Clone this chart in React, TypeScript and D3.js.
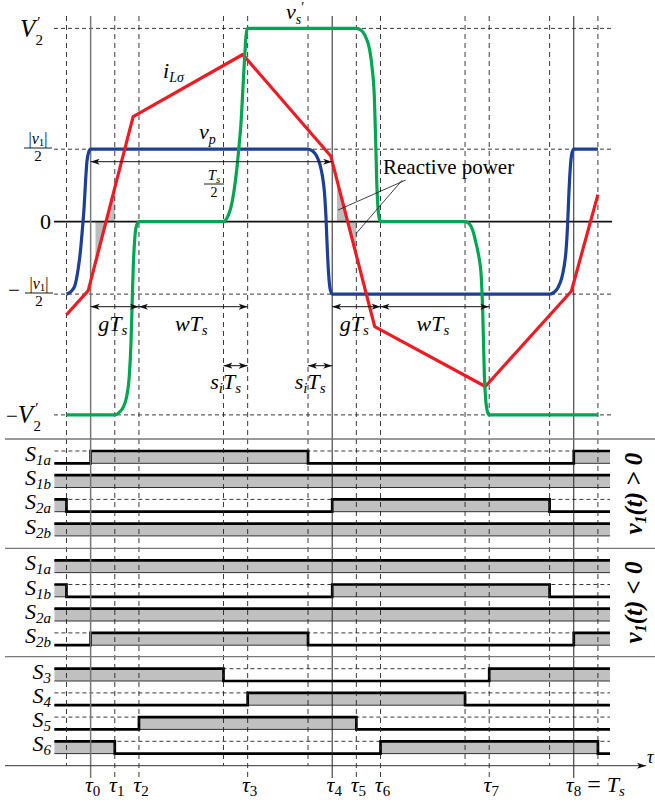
import React from "react";
import * as d3 from "d3";

// ---------------- data ----------------
const tauTimes = [0, 0.05, 0.1, 0.325, 0.5, 0.55, 0.6, 0.825, 1.0];
const tauNames = ["0", "1", "2", "3", "4", "5", "6", "7", "8"];
const solidTimes = [0, 0.5, 1.0];
const helperTimes = [-0.05, 0.275, 0.45, 0.775, 0.95, 1.05];
const levelValues = [1, 0.375, -0.375, -1];

// v_p (primary voltage), in units of V2'
const vpT = [-0.05, -0.04, -0.0325, -0.026, -0.021, -0.017, -0.0135, -0.0105, -0.0075, -0.004, 0,
  0.45, 0.46, 0.4675, 0.475, 0.48, 0.484, 0.487, 0.49, 0.493, 0.496, 0.5,
  0.95, 0.96, 0.9675, 0.975, 0.98, 0.984, 0.987, 0.99, 0.993, 0.996, 1.0, 1.05];
const vpV = [-0.375, -0.36, -0.33, -0.2475, -0.15, -0.0375, 0.075, 0.21, 0.315, 0.36, 0.375,
  0.375, 0.364, 0.341, 0.2925, 0.2325, 0.15, 0.03, -0.15, -0.285, -0.3525, -0.375,
  -0.375, -0.364, -0.341, -0.2925, -0.2325, -0.15, -0.03, 0.15, 0.285, 0.3525, 0.375, 0.375];

// v_s' (secondary voltage referred)
const vsT = [-0.05,
  0.05, 0.06, 0.0675, 0.075, 0.08, 0.0835, 0.086, 0.088, 0.091, 0.094, 0.1,
  0.275, 0.2825, 0.29, 0.296, 0.3025, 0.3075, 0.311, 0.315, 0.319, 0.322, 0.325,
  0.55, 0.56, 0.5675, 0.5775, 0.5825, 0.5875, 0.59, 0.592, 0.594, 0.5965, 0.6,
  0.775, 0.785, 0.7915, 0.7975, 0.8035, 0.8085, 0.8115, 0.815, 0.818, 0.821, 0.825,
  1.05];
const vsV = [-1,
  -1, -0.985, -0.96, -0.9, -0.8, -0.63, -0.42, -0.25, -0.1, -0.03, 0,
  0, 0.02, 0.07, 0.146, 0.27, 0.4, 0.5, 0.68, 0.86, 0.97, 1,
  1, 0.99, 0.965, 0.89, 0.8, 0.63, 0.42, 0.22, 0.1, 0.03, 0,
  0, -0.015, -0.05, -0.11, -0.18, -0.285, -0.46, -0.8, -0.93, -0.98, -1,
  -1];

// i_Lsigma (inductor current)
const iLT = [-0.05, -0.005, 0.088, 0.315, 0.497, 0.588, 0.817, 0.995, 1.05];
const iLV = [-0.482, -0.357, 0.543, 0.865, 0.34, -0.543, -0.853, -0.36, 0.14];

const reactiveSpans = [[0.01, 0.05], [0.51, 0.55]];

// switching signals (on-intervals)
const panelANames = ["1a", "1b", "2a", "2b"];
const panelAOn = [[[0, 0.45], [1, 1.075]], [[-0.075, 1.075]], [[-0.075, -0.05], [0.5, 0.95]], [[-0.075, 1.075]]];
const panelBNames = ["1a", "1b", "2a", "2b"];
const panelBOn = [[[-0.075, 1.075]], [[-0.075, -0.05], [0.5, 0.95]], [[-0.075, 1.075]], [[0, 0.45], [1, 1.075]]];
const panelCNames = ["3", "4", "5", "6"];
const panelCOn = [[[-0.075, 0.275], [0.825, 1.075]], [[0.325, 0.775]], [[0.1, 0.55]], [[-0.075, 0.05], [0.6, 1.05]]];

const dimSpans = [[0, 0.1, "g"], [0.1, 0.325, "w"], [0.5, 0.6, "g"], [0.6, 0.825, "w"]];
const siSpans = [[0.275, 0.325], [0.45, 0.5]];

// ---------------- layout ----------------
const W = 655, H = 805;
const X0 = -0.075, X1 = 1.075;
const x = d3.scaleLinear().domain([X0, X1]).range([54.4, 610]);
const y = d3.scaleLinear().domain([-1, 1]).range([414.9, 28.4]);
const FONT = "'Liberation Serif','DejaVu Serif',serif";
const BLUE = "#1d3f95", GREEN = "#00a651", RED = "#ed1c24";
const rowH = 12.3, rowGap = 24.2;
const panelTops = [439, 548.3, 656.7];
const axisY = 765.7;

const smooth = d3.line<number>().curve(d3.curveMonotoneX);

function SignalRow({ on, top, name }: { on: number[][]; top: number; name: string }) {
  const hi = top, lo = top + rowH;
  const bounds = Array.from(new Set([X0, X1, ...on.flat()])).sort((a, b) => a - b);
  const isOn = (t: number) => on.some(([a, b]) => t >= a && t < b);
  const pts = bounds.map((t, i) => [t, i === bounds.length - 1 ? (isOn(bounds[i - 1]) ? 1 : 0) : (isOn(t) ? 1 : 0)]);
  const line = d3.line<number[]>().x(d => x(d[0])).y(d => (d[1] ? hi : lo)).curve(d3.curveStepAfter);
  return (
    <g>
      {on.map(([a, b], i) => (
        <rect key={i} x={x(a)} y={hi} width={x(b) - x(a)} height={rowH} fill="#c0c0c0" />
      ))}
      <line x1={x(X0)} x2={x(X1)} y1={lo} y2={lo} stroke="#333" strokeWidth={1} />
      <line x1={x(X0)} x2={x(X1)} y1={hi} y2={hi} stroke="#222" strokeWidth={0.9} strokeDasharray="4,3" />
      <text x={51} y={hi + 10} textAnchor="end" fontSize={22} fontStyle="italic">
        S<tspan fontSize={15} dy={4}>{name}</tspan>
      </text>
      <path className="sig" d={line(pts) || ""} fill="none" stroke="#000" strokeWidth={2.7} />
    </g>
  );
}

// |v1| / 2 fraction as a single text element plus its bar
function FracV1({ cx, barY }: { cx: number; barY: number }) {
  return (
    <g>
      <text textAnchor="middle" fontSize={16}>
        <tspan x={cx} y={barY - 4}>|</tspan>
        <tspan fontStyle="italic">v</tspan>
        <tspan fontSize={11} dy={2}>1</tspan>
        <tspan dy={-2}>|</tspan>
        <tspan x={cx} y={barY + 13} fontSize={15}>2</tspan>
      </text>
      <line x1={cx - 14} x2={cx + 14} y1={barY} y2={barY} stroke="#000" strokeWidth={0.9} />
    </g>
  );
}

export default function App() {
  const pathOf = (T: number[], V: number[]) => smooth(T.map((t, i) => [x(t), y(V[i])]) as any) || "";
  const iScale = d3.scaleLinear().domain(iLT).range(iLV);
  const redPath = d3.line<number>()(iLT.map((t, i) => [x(t), y(iLV[i])]) as any) || "";
  const area = d3.area<number>().x(t => x(t)).y0(y(0)).y1(t => y(iScale(t)));

  const panels = [
    { names: panelANames, on: panelAOn, top: panelTops[0] },
    { names: panelBNames, on: panelBOn, top: panelTops[1] },
    { names: panelCNames, on: panelCOn, top: panelTops[2] },
  ];

  return (
    <svg width={W} height={H} style={{ position: "absolute", left: 0, top: 0, background: "#fff" }} fontFamily={FONT}>
      <defs>
        <marker id="ah" viewBox="0 0 10 10" refX="10" refY="5" markerWidth="9" markerHeight="9"
          orient="auto-start-reverse" markerUnits="userSpaceOnUse">
          <path d="M0,1.6 L10,5 L0,8.4 L2.6,5 Z" fill="#111" />
        </marker>
      </defs>

      {/* reactive-power shading */}
      {reactiveSpans.map((s, i) => (
        <path key={i} d={area(s) || ""} fill="#bdbdbd" />
      ))}

      {/* signal rows */}
      {panels.map((p, pi) =>
        p.names.map((n, ri) => (
          <SignalRow key={pi + "-" + ri} on={p.on[ri]} top={p.top + 12 + ri * rowGap} name={n} />
        ))
      )}

      {/* horizontal dashed levels */}
      {levelValues.map(v => (
        <line key={v} x1={54} x2={611} y1={y(v)} y2={y(v)} stroke="#222" strokeWidth={0.9} strokeDasharray="4,3" />
      ))}
      <line x1={54} x2={612} y1={y(0)} y2={y(0)} stroke="#111" strokeWidth={1.6} />

      {/* vertical lines */}
      {helperTimes.map(t => (
        <line key={"h" + t} x1={x(t)} x2={x(t)} y1={16} y2={axisY} stroke="#222" strokeWidth={0.9} strokeDasharray="5,4" />
      ))}
      {tauTimes.filter(t => !solidTimes.includes(t)).map(t => (
        <line key={"t" + t} x1={x(t)} x2={x(t)} y1={16} y2={778} stroke="#222" strokeWidth={0.9} strokeDasharray="5,4" />
      ))}
      {solidTimes.map((t, i) => (
        <line key={"s" + t} x1={x(t)} x2={x(t)} y1={16} y2={778} stroke={i === 0 ? "#777" : "#222"} strokeWidth={i === 0 ? 1.5 : 1} />
      ))}

      {/* panel dividers and time axis */}
      {panelTops.map(py => (
        <line key={py} x1={5} x2={655} y1={py} y2={py} stroke="#777" strokeWidth={1.3} />
      ))}
      <line x1={5} x2={646} y1={axisY} y2={axisY} stroke="#333" strokeWidth={1} markerEnd="url(#ah)" />
      <text x={647} y={763} fontSize={18} fontStyle="italic">τ</text>

      {/* waveforms */}
      <path d={pathOf(vpT, vpV)} fill="none" stroke={BLUE} strokeWidth={3.2} />
      <path d={redPath} fill="none" stroke={RED} strokeWidth={3.2} strokeLinejoin="round" />
      <path d={pathOf(vsT, vsV)} fill="none" stroke={GREEN} strokeWidth={3.2} />

      {/* level labels */}
      <text x={20} y={37} fontSize={25} fontStyle="italic">
        V<tspan fontSize={15} fontStyle="normal" dx={2} dy={-10}>′</tspan>
        <tspan fontSize={15} fontStyle="normal" dx={-5} dy={18}>2</tspan>
      </text>
      <FracV1 cx={38} barY={148} />
      <text x={51} y={229} textAnchor="end" fontSize={22}>0</text>
      <text x={8} y={297} fontSize={21}>−</text>
      <FracV1 cx={39} barY={293} />
      <text x={6} y={423} fontSize={21}>
        −<tspan fontSize={25} fontStyle="italic">V</tspan>
        <tspan fontSize={15} dx={2} dy={-10}>′</tspan>
        <tspan fontSize={15} dx={-5} dy={18}>2</tspan>
      </text>

      {/* curve labels */}
      <text x={286} y={19} fontSize={22} fontStyle="italic">
        v<tspan fontSize={14} dy={5}>s</tspan>
        <tspan fontSize={14} fontStyle="normal" dx={0} dy={-12}>′</tspan>
      </text>
      <text x={163} y={78} fontSize={22} fontStyle="italic">i<tspan fontSize={14} dy={4}>Lσ</tspan></text>
      <text x={199} y={139} fontSize={22} fontStyle="italic">v<tspan fontSize={14} dy={5}>p</tspan></text>
      <text textAnchor="middle" fontSize={15} fontStyle="italic">
        <tspan x={214} y={180}>T</tspan>
        <tspan fontSize={11} dy={3}>s</tspan>
        <tspan x={214} y={197} fontSize={14} fontStyle="normal">2</tspan>
      </text>
      <line x1={204} x2={224} y1={184} y2={184} stroke="#000" strokeWidth={0.9} />

      {/* dimension arrows */}
      <line x1={x(0)} x2={x(0.5)} y1={161.7} y2={161.7} stroke="#111" strokeWidth={1} markerStart="url(#ah)" markerEnd="url(#ah)" />
      {dimSpans.map(([a, b, k], i) => (
        <g key={"d" + i}>
          <line x1={x(a as number)} x2={x(b as number)} y1={306.7} y2={306.7} stroke="#111" strokeWidth={1}
            markerStart="url(#ah)" markerEnd="url(#ah)" />
          <text x={(x(a as number) + x(b as number)) / 2 - 2} y={331} textAnchor="middle" fontSize={22} fontStyle="italic">
            {k}T<tspan fontSize={15} dy={4}>s</tspan>
          </text>
        </g>
      ))}
      {siSpans.map(([a, b], i) => (
        <g key={"si" + i}>
          <line x1={x(a)} x2={x(b)} y1={365.7} y2={365.7} stroke="#111" strokeWidth={1} markerStart="url(#ah)" markerEnd="url(#ah)" />
          <text x={(x(a) + x(b)) / 2 - 10} y={389} textAnchor="middle" fontSize={22} fontStyle="italic">
            s<tspan fontSize={15} dy={4}>i</tspan><tspan dy={-4}>T</tspan><tspan fontSize={15} dy={4}>s</tspan>
          </text>
        </g>
      ))}

      {/* reactive power annotation */}
      <text x={383} y={174} fontSize={21}>Reactive power</text>
      <line x1={x(0.652)} y1={y(0.215)} x2={x(0.512)} y2={y(0.06)} stroke="#111" strokeWidth={0.8} />
      <line x1={x(0.645)} y1={y(0.215)} x2={x(0.55)} y2={y(-0.06)} stroke="#111" strokeWidth={0.8} />

      {/* rotated panel labels */}
      <text transform={`translate(642,${(panelTops[0] + panelTops[1]) / 2}) rotate(-90)`} textAnchor="middle"
        fontSize={25} fontWeight="bold" fontStyle="italic">
        v<tspan fontSize={16} dy={4}>1</tspan><tspan dy={-4}>(t) &gt; 0</tspan>
      </text>
      <text transform={`translate(642,${(panelTops[1] + panelTops[2]) / 2}) rotate(-90)`} textAnchor="middle"
        fontSize={25} fontWeight="bold" fontStyle="italic">
        v<tspan fontSize={16} dy={4}>1</tspan><tspan dy={-4}>(t) &lt; 0</tspan>
      </text>

      {/* tau labels */}
      {tauTimes.map((t, i) =>
        i < 8 ? (
          <text key={"tl" + i} x={x(t) + 2} y={792} textAnchor="middle" fontSize={22} fontStyle="italic">
            τ<tspan fontSize={15} dy={4} fontStyle="normal">{tauNames[i]}</tspan>
          </text>
        ) : (
          <text key={"tl" + i} x={x(t) - 8} y={792} fontSize={22} fontStyle="italic">
            τ<tspan fontSize={15} dy={4} fontStyle="normal">{tauNames[i]}</tspan>
            <tspan dy={-4} fontStyle="normal" fontSize={24}> = </tspan>T<tspan fontSize={15} dy={4}>s</tspan>
          </text>
        )
      )}
    </svg>
  );
}
